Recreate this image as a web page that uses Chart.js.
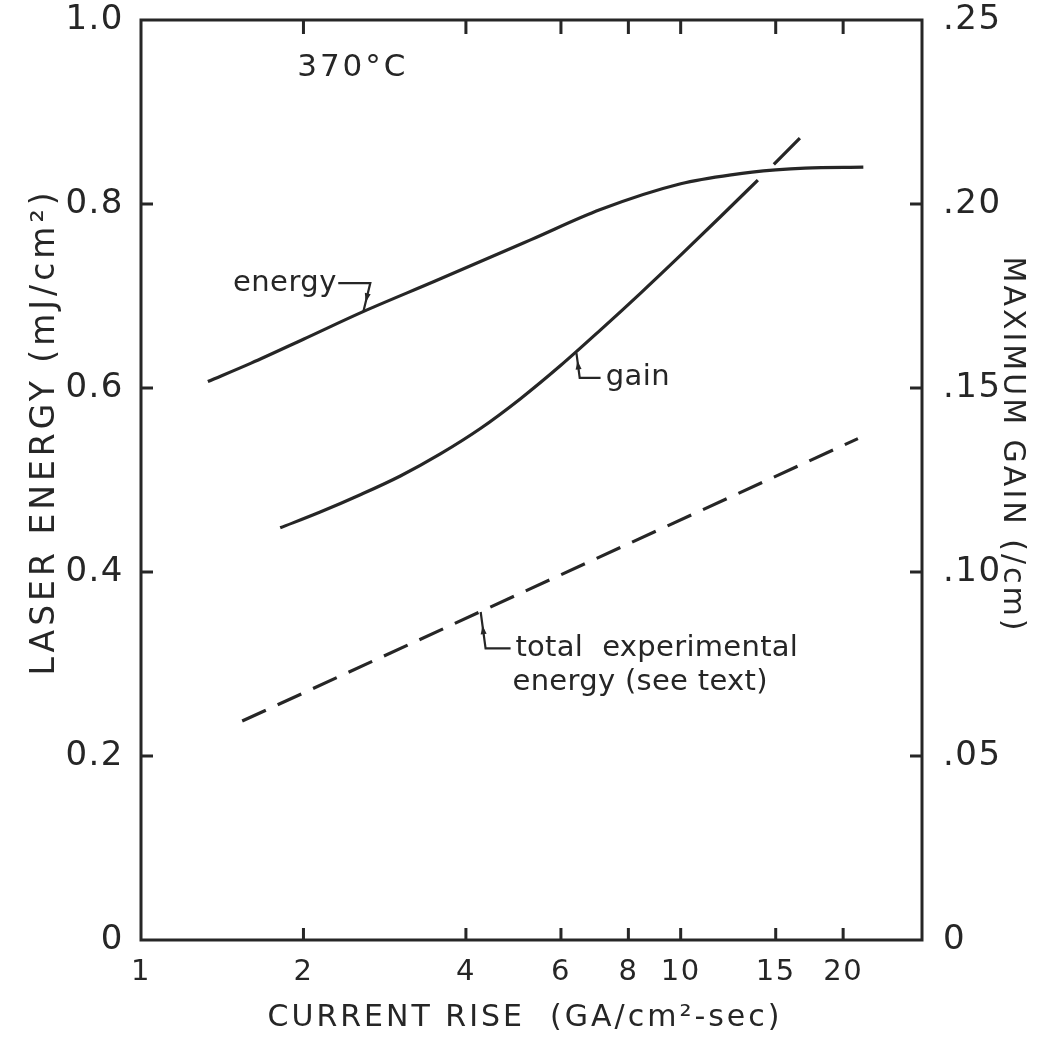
<!DOCTYPE html>
<html>
<head>
<meta charset="utf-8">
<script src="https://cdn.jsdelivr.net/npm/chart.js@4/dist/chart.umd.min.js"></script>
<style>html,body{margin:0;padding:0;background:#fff;}canvas{display:block;}</style>
</head>
<body>
<canvas id="c" width="1042" height="1040"></canvas>
<script>
// ---- data ----
const xTicks = [1, 2, 4, 6, 8, 10, 15, 20];
const xTickLabels = ['1', '2', '4', '6', '8', '10', '15', '20'];
const yLeftTicks = [0, 0.2, 0.4, 0.6, 0.8, 1.0];
const yLeftLabels = ['0', '0.2', '0.4', '0.6', '0.8', '1.0'];
const yRightTicks = [0, 0.05, 0.10, 0.15, 0.20, 0.25];
const yRightLabels = ['0', '.05', '.10', '.15', '.20', '.25'];

const energyX = [1.33, 1.6, 2.0, 2.58, 3.5, 5.27, 7.1, 10, 12.5, 15, 17, 21.8];
const energyY = [0.607, 0.627, 0.653, 0.683, 0.716, 0.761, 0.794, 0.822, 0.832, 0.837, 0.839, 0.840];

const gainX = [1.811, 2.148, 2.549, 3.024, 3.586, 4.255, 5.049, 5.99, 7.105, 8.43, 10.0, 11.86, 13.9, 14.4, 14.88, 16.63];
const gainY = [0.1120, 0.1163, 0.1210, 0.1261, 0.1321, 0.1390, 0.1471, 0.1561, 0.1658, 0.1758, 0.1861, 0.1966, 0.2065, null, 0.2108, 0.2179];

const totalX = [1.54, 4.26, 21.3];
const totalY = [0.238, 0.357, 0.545];

// ---- style ----
const INK = '#262626';
const FAM = '"DejaVu Sans", "Liberation Sans", sans-serif';

const pts = (xs, ys) => xs.map((x, i) => ({ x: x, y: ys[i] }));

// annotation texts placed in data coordinates (left axis units)
const notes = [
  { text: '370°C', x: 1.947, y: 0.948, size: 31, spacing: 3 },
  { text: 'energy', x: 1.48, y: 0.714, size: 29, spacing: 0.5 },
  { text: 'gain', x: 7.26, y: 0.611, size: 29, spacing: 0.5 },
  { text: 'total  experimental', x: 4.94, y: 0.317, size: 29, spacing: 0.3 },
  { text: 'energy (see text)', x: 4.88, y: 0.280, size: 29, spacing: 0.3 }
];
// leader lines: polyline points in data coords, arrowhead on last segment pointing to last point
const leaders = [
  [[2.32, 0.714], [2.66, 0.714], [2.582, 0.683]],
  [[7.105, 0.611], [6.50, 0.611], [6.41, 0.638]],
  [[4.84, 0.317], [4.35, 0.317], [4.26, 0.3565]]
];

const noPad = s => { s.paddingTop = 0; s.paddingBottom = 0; s.paddingLeft = 0; s.paddingRight = 0; };

const framePlugin = {
  id: 'frame',
  beforeDraw(chart) {
    chart.ctx.letterSpacing = '1.5px';
  },
  afterDraw(chart) {
    const ctx = chart.ctx;
    const { left, right, top, bottom } = chart.chartArea;
    const x = chart.scales.x, yL = chart.scales.yL, yR = chart.scales.yR;
    ctx.save();
    ctx.strokeStyle = INK;
    ctx.fillStyle = INK;
    ctx.lineWidth = 3;
    ctx.lineCap = 'butt';
    ctx.strokeRect(left, top, right - left, bottom - top);
    ctx.beginPath();
    xTicks.forEach(v => {
      if (v === 1) return;
      const px = x.getPixelForValue(v);
      ctx.moveTo(px, bottom); ctx.lineTo(px, bottom - 12);
      ctx.moveTo(px, top); ctx.lineTo(px, top + 14);
    });
    yLeftTicks.forEach(v => {
      if (v === 0 || v === 1) return;
      const py = yL.getPixelForValue(v);
      ctx.moveTo(left, py); ctx.lineTo(left + 12, py);
    });
    yRightTicks.forEach(v => {
      if (v === 0 || v === 0.25) return;
      const py = yR.getPixelForValue(v);
      ctx.moveTo(right, py); ctx.lineTo(right - 12, py);
    });
    ctx.stroke();

    ctx.lineWidth = 2.2;
    leaders.forEach(l => {
      ctx.beginPath();
      l.forEach((p, i) => {
        const px = x.getPixelForValue(p[0]), py = yL.getPixelForValue(p[1]);
        if (i === 0) ctx.moveTo(px, py); else ctx.lineTo(px, py);
      });
      ctx.stroke();
      const a = l[l.length - 2], b = l[l.length - 1];
      const ax = x.getPixelForValue(a[0]), ay = yL.getPixelForValue(a[1]);
      const bx = x.getPixelForValue(b[0]), by = yL.getPixelForValue(b[1]);
      const ang = Math.atan2(by - ay, bx - ax);
      const mx = (ax + bx) / 2 + Math.cos(ang) * 5, my = (ay + by) / 2 + Math.sin(ang) * 5;
      ctx.beginPath();
      ctx.moveTo(mx, my);
      ctx.lineTo(mx - Math.cos(ang) * 9 + Math.sin(ang) * 3, my - Math.sin(ang) * 9 - Math.cos(ang) * 3);
      ctx.lineTo(mx - Math.cos(ang) * 9 - Math.sin(ang) * 3, my - Math.sin(ang) * 9 + Math.cos(ang) * 3);
      ctx.closePath();
      ctx.fill();
    });

    ctx.textAlign = 'left';
    ctx.textBaseline = 'middle';
    notes.forEach(n => {
      ctx.font = n.size + 'px ' + FAM;
      ctx.letterSpacing = n.spacing + 'px';
      ctx.fillText(n.text, x.getPixelForValue(n.x), yL.getPixelForValue(n.y));
    });

    ctx.font = '30px ' + FAM;
    ctx.letterSpacing = '3px';
    ctx.textAlign = 'center';
    ctx.fillText('CURRENT RISE  (GA/cm²-sec)', 525, 1018);

    ctx.save();
    ctx.translate(45, 432);
    ctx.rotate(-Math.PI / 2);
    ctx.font = '33px ' + FAM;
    ctx.letterSpacing = '4px';
    ctx.fillText('LASER ENERGY (mJ/cm²)', 0, 0);
    ctx.restore();

    ctx.save();
    ctx.translate(1012, 445);
    ctx.rotate(Math.PI / 2);
    ctx.font = '30px ' + FAM;
    ctx.letterSpacing = '3px';
    ctx.fillText('MAXIMUM GAIN (/cm)', 0, 0);
    ctx.restore();

    ctx.restore();
  }
};

new Chart(document.getElementById('c'), {
  type: 'line',
  data: {
    datasets: [
      { label: 'energy', data: pts(energyX, energyY), yAxisID: 'yL',
        borderColor: INK, borderWidth: 3.2, pointRadius: 0, cubicInterpolationMode: 'monotone', fill: false },
      { label: 'gain', data: pts(gainX, gainY), yAxisID: 'yR', spanGaps: false,
        borderColor: INK, borderWidth: 3.2, pointRadius: 0, cubicInterpolationMode: 'monotone', fill: false },
      { label: 'total experimental energy', data: pts(totalX, totalY), yAxisID: 'yL',
        borderColor: INK, borderWidth: 3.2, pointRadius: 0, tension: 0, borderDash: [26, 13], fill: false }
    ]
  },
  options: {
    responsive: false,
    animation: false,
    events: [],
    layout: { padding: { top: 20, left: 0, right: 0, bottom: 0 } },
    plugins: { legend: { display: false }, tooltip: { enabled: false } },
    scales: {
      x: {
        type: 'logarithmic', position: 'bottom', min: 1, max: 28,
        grid: { display: false, drawTicks: false }, border: { display: false },
        afterBuildTicks: s => { s.ticks = xTicks.map(v => ({ value: v })); },
        afterFit: s => { s.height = 100; noPad(s); },
        ticks: {
          autoSkip: false, maxRotation: 0, padding: 15, color: INK,
          font: { family: FAM, size: 29 },
          callback: v => { const i = xTicks.indexOf(v); return i >= 0 ? xTickLabels[i] : ''; }
        }
      },
      yL: {
        type: 'linear', position: 'left', min: 0, max: 1,
        grid: { display: false, drawTicks: false }, border: { display: false },
        afterBuildTicks: s => { s.ticks = yLeftTicks.map(v => ({ value: v })); },
        afterFit: s => { s.width = 141; noPad(s); },
        ticks: {
          padding: 17, color: INK, font: { family: FAM, size: 34 },
          callback: v => { const i = yLeftTicks.findIndex(t => Math.abs(t - v) < 1e-9); return i >= 0 ? yLeftLabels[i] : ''; }
        }
      },
      yR: {
        type: 'linear', position: 'right', min: 0, max: 0.25,
        grid: { display: false, drawTicks: false }, border: { display: false },
        afterBuildTicks: s => { s.ticks = yRightTicks.map(v => ({ value: v })); },
        afterFit: s => { s.width = 120; noPad(s); },
        ticks: {
          padding: 21, color: INK, font: { family: FAM, size: 34 },
          callback: v => { const i = yRightTicks.findIndex(t => Math.abs(t - v) < 1e-9); return i >= 0 ? yRightLabels[i] : ''; }
        }
      }
    }
  },
  plugins: [framePlugin]
});
</script>
</body>
</html>
